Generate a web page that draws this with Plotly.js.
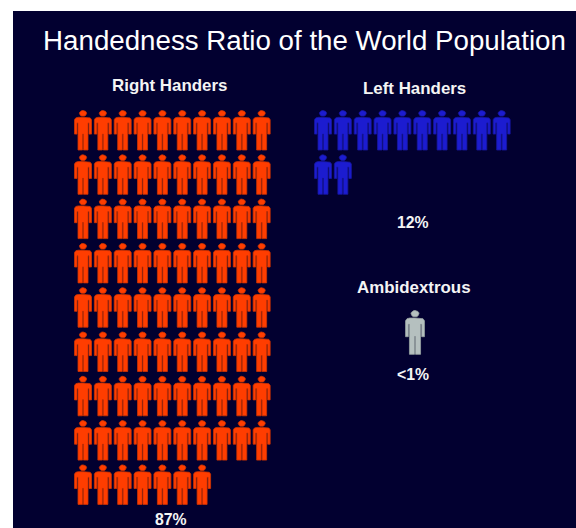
<!DOCTYPE html>
<html>
<head>
<meta charset="utf-8">
<script src="https://cdn.plot.ly/plotly-3.0.1.min.js"></script>
<style>html,body{margin:0;padding:0;background:#fff}#chart{width:576px;height:528px}</style>
</head>
<body>
<div id="chart"></div>
<script>
// Values shown by the pictogram: one figure per person out of each hundred.
const categories = ["Right Handers", "Left Handers", "Ambidextrous"];
const figureCounts = [87, 12, 1];
const shareLabels = ["87%", "12%", "<1%"];
const fillColors = ["#ff3d00", "#1c1cd0", "#b5c0bf"];
const edgeColors = ["#cf3400", "#1616a0", "#97a2a1"];

// Placement of each group on the page-sized axes.
const groupLayout = [
  {x0: 83, y0: 110.5, perRow: 10, scale: 1, titleX: 169.5, titleY: 85, shareX: 171, shareY: 519.5},
  {x0: 323, y0: 110.5, perRow: 10, scale: 1, titleX: 414, titleY: 88, shareX: 412.5, shareY: 222},
  {x0: 415, y0: 310.5, perRow: 1, scale: 1.11, titleX: 414, titleY: 287, shareX: 413, shareY: 374}
];
const colStep = 19.85;
const rowStep = 44.3;

// Half outline of the body, listed from the neck outwards to the inner leg.
const bodyHalf = [[0,6.8],[4.8,6.8],[7.2,7.4],[8.5,9.2],[8.5,23.6],[6,23.6],[6,12.4],[5,12.4],
                  [5,39.5],[0.45,39.5],[0.45,23.5]];

function addFigure(xs, ys, cx, top, s) {
  for (let i = 0; i <= 16; i++) {
    const a = i / 16 * 2 * Math.PI;
    xs.push(cx + s * 3.6 * Math.cos(a));
    ys.push(top + s * (2.9 + 2.9 * Math.sin(a)));
  }
  xs.push(null); ys.push(null);
  const outline = bodyHalf.concat(bodyHalf.slice().reverse().map(p => [-p[0], p[1]]));
  outline.forEach(p => { xs.push(cx + s * p[0]); ys.push(top + s * p[1]); });
  xs.push(cx + s * bodyHalf[0][0]); ys.push(top + s * bodyHalf[0][1]);
  xs.push(null); ys.push(null);
}

const traces = categories.map((name, g) => {
  const xs = [], ys = [], L = groupLayout[g];
  for (let n = 0; n < figureCounts[g]; n++) {
    const col = n % L.perRow, row = Math.floor(n / L.perRow);
    addFigure(xs, ys, L.x0 + col * colStep, L.y0 + row * rowStep, L.scale);
  }
  return {
    type: "scatter", mode: "lines", name, x: xs, y: ys,
    fill: "toself", fillcolor: fillColors[g],
    line: {color: edgeColors[g], width: 0.8},
    hoverinfo: "name", connectgaps: false
  };
});

const nameFont = {family: "Liberation Sans, Arial, sans-serif", size: 16.9, color: "#f4f4f4"};
const shareFont = {family: "Liberation Sans, Arial, sans-serif", size: 15.8, color: "#f4f4f4"};
const annotations = [];
categories.forEach((name, g) => {
  const L = groupLayout[g];
  annotations.push({x: L.titleX, y: L.titleY, text: "<b>" + name + "</b>", showarrow: false, font: nameFont, xref: "x", yref: "y"});
  annotations.push({x: L.shareX, y: L.shareY, text: "<b>" + shareLabels[g].replace("<", "&lt;") + "</b>", showarrow: false, font: shareFont, xref: "x", yref: "y"});
});

const layout = {
  width: 576, height: 528,
  margin: {l: 13, r: 0, t: 11, b: 0},
  paper_bgcolor: "#ffffff",
  plot_bgcolor: "#020030",
  showlegend: false,
  title: {
    text: "Handedness Ratio of the World Population",
    font: {family: "Liberation Sans, Arial, sans-serif", size: 27.7, color: "#ffffff"},
    x: 0.5178, xanchor: "center", xref: "paper",
    y: 1 - 40 / 528, yanchor: "middle", yref: "container"
  },
  xaxis: {range: [13, 576], visible: false, fixedrange: true},
  yaxis: {range: [528, 11], visible: false, fixedrange: true},
  annotations
};

Plotly.newPlot("chart", traces, layout, {displayModeBar: false, staticPlot: true});
</script>
</body>
</html>
